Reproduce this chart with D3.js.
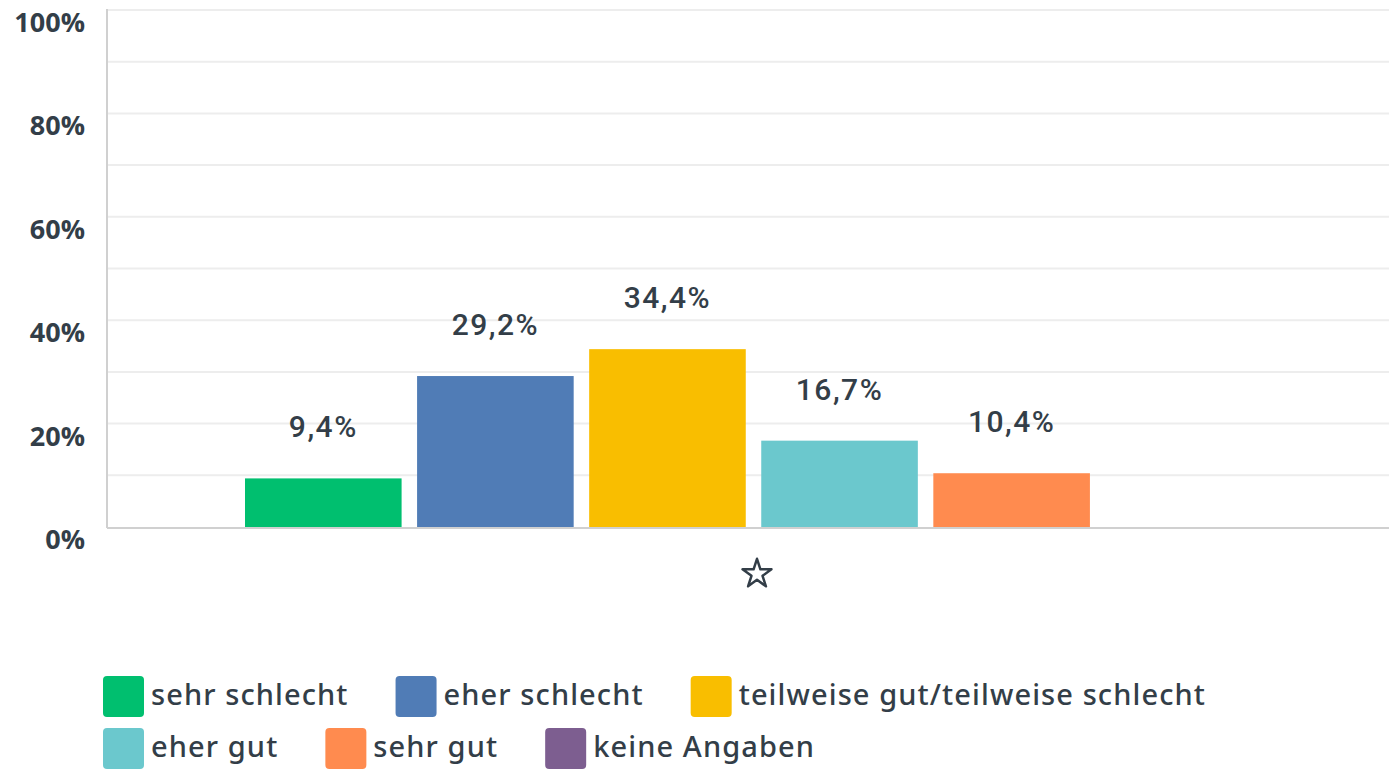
<!DOCTYPE html>
<html>
<head>
<meta charset="utf-8">
<script src="https://cdn.jsdelivr.net/npm/d3@7"></script>
<style>
  body { margin: 0; background: #fff; }
  text { fill: #333e48; }
</style>
</head>
<body>
<div id="chart"></div>
<script>
// answer categories (legend order)
var categories = ["sehr schlecht", "eher schlecht", "teilweise gut/teilweise schlecht", "eher gut", "sehr gut", "keine Angaben"];
var values = [9.4, 29.2, 34.4, 16.7, 10.4, 0];
var valueLabels = ["9,4%", "29,2%", "34,4%", "16,7%", "10,4%", ""];
var colors = ["#00bf6f", "#507cb6", "#f9be00", "#6bc8cd", "#ff8b4f", "#7d5e90"];
var yTicks = [0, 20, 40, 60, 80, 100];
var gridTicks = [10, 20, 30, 40, 50, 60, 70, 80, 90, 100];

var svgWidth = 1389;
var svgHeight = 772;

var margin = { top: 10, right: 0, bottom: 245, left: 107 };
var width = svgWidth - margin.left - margin.right;
var height = svgHeight - margin.top - margin.bottom;

var svg = d3.select("#chart")
  .append("svg")
  .attr("width", svgWidth)
  .attr("height", svgHeight);

var chartGroup = svg.append("g")
  .attr("transform", `translate(${margin.left}, ${margin.top})`);

var yScale = d3.scaleLinear()
  .domain([0, 100])
  .range([height, 0]);

// the single question group sits in the middle, bars inside it
var xBand = d3.scaleBand()
  .domain(categories)
  .range([138, 1155])
  .paddingInner(0.09);

// gridlines
chartGroup.selectAll(".grid")
  .data(gridTicks)
  .enter()
  .append("line")
  .attr("x1", 0)
  .attr("x2", width)
  .attr("y1", d => yScale(d))
  .attr("y2", d => yScale(d))
  .attr("stroke", "#ededed")
  .attr("stroke-width", 2);

// y axis labels
chartGroup.selectAll(".ylab")
  .data(yTicks)
  .enter()
  .append("text")
  .attr("x", -22)
  .attr("y", d => yScale(d) + 22)
  .attr("text-anchor", "end")
  .style("font-family", "'Open Sans', sans-serif")
  .style("font-weight", 700)
  .style("font-size", "27px")
  .text(d => d + "%");

// bars
chartGroup.selectAll("rect.bar")
  .data(values)
  .enter()
  .append("rect")
  .attr("class", "bar")
  .attr("x", (d, i) => xBand(categories[i]))
  .attr("width", xBand.bandwidth())
  .attr("y", d => yScale(d))
  .attr("height", d => height - yScale(d))
  .attr("fill", (d, i) => colors[i]);

// value labels
chartGroup.selectAll(".vlab")
  .data(values)
  .enter()
  .append("text")
  .attr("x", (d, i) => xBand(categories[i]) + xBand.bandwidth() / 2)
  .attr("y", d => yScale(d) - 41)
  .attr("text-anchor", "middle")
  .style("font-family", "Roboto, sans-serif")
  .style("font-weight", 500)
  .style("font-size", "30px")
  .style("letter-spacing", "1.5px")
  .text((d, i) => valueLabels[i]);

// axis lines
chartGroup.append("line")
  .attr("x1", 0).attr("x2", 0)
  .attr("y1", -1).attr("y2", height + 1)
  .attr("stroke", "#d0d0d0")
  .attr("stroke-width", 2);
chartGroup.append("line")
  .attr("x1", 0).attr("x2", width)
  .attr("y1", height + 1).attr("y2", height + 1)
  .attr("stroke", "#d0d0d0")
  .attr("stroke-width", 2);

// star marker under the group
chartGroup.append("path")
  .attr("d", d3.symbol().type(d3.symbolStar).size(260)())
  .attr("transform", `translate(650, ${height + 47})`)
  .attr("fill", "#fff")
  .attr("stroke", "#333e48")
  .attr("stroke-width", 2.5)
  .attr("stroke-linejoin", "round");

// legend, flowing left to right and wrapping
var legend = svg.append("g");
var lx = 103, ly = 676, rowStep = 52, maxX = 1300;
categories.forEach(function(c, i) {
  var item = legend.append("g");
  item.append("rect")
    .attr("width", 41).attr("height", 41)
    .attr("rx", 4)
    .attr("fill", colors[i]);
  var t = item.append("text")
    .attr("x", 48)
    .attr("y", 29)
    .style("font-family", "'Noto Sans', sans-serif")
    .style("font-weight", 500)
    .style("font-size", "29px")
    .style("letter-spacing", "1.1px")
    .text(c);
  var w = 48 + t.node().getComputedTextLength();
  if (lx + w > maxX) { lx = 103; ly += rowStep; }
  item.attr("transform", `translate(${lx}, ${ly})`);
  lx += w + 47;
});
</script>
</body>
</html>
